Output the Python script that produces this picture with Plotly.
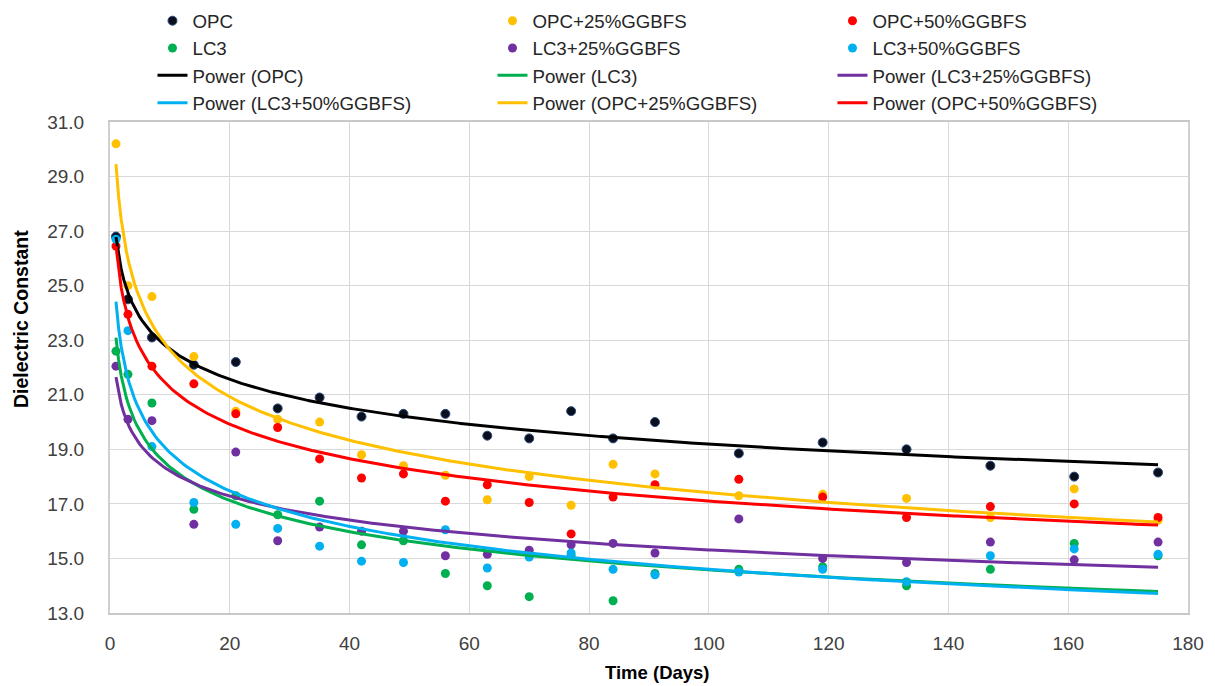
import numpy as np
import plotly.graph_objects as go

days = [1, 3, 7, 14, 21, 28, 35, 42, 49, 56, 63, 70, 77, 84, 91, 105, 119, 133, 147, 161, 175]

opc = [26.8, 24.5, 23.1, 22.1, 22.2, 20.5, 20.9, 20.2, 20.3, 20.3, 19.5, 19.4, 20.4, 19.4, 20.0,
       18.85, 19.25, 19.0, 18.4, 18.0, 18.15]
opc25 = [30.2, 25.0, 24.6, 22.4, 20.4, 20.1, 20.0, 18.8, 18.4, 18.05, 17.15, 18.0, 16.95, 18.45, 18.1,
         17.3, 17.35, 17.2, 16.5, 17.55, 16.4]
opc50 = [26.45, 23.95, 22.05, 21.4, 20.3, 19.8, 18.65, 17.95, 18.1, 17.1, 17.7, 17.05, 15.9, 17.25, 17.7,
         17.9, 17.25, 16.5, 16.9, 17.0, 16.5]
lc3 = [22.6, 21.75, 20.7, 16.8, 17.3, 16.6, 17.1, 15.5, 15.65, 14.45, 14.0, 13.6, 15.1, 13.45, 14.45,
       14.6, 14.7, 14.0, 14.6, 15.55, 15.1]
lc3_25 = [22.05, 20.1, 20.05, 16.25, 18.9, 15.65, 16.15, 16.0, 16.0, 15.1, 15.15, 15.3, 15.5, 15.55, 15.2,
          16.45, 15.0, 14.85, 15.6, 14.95, 15.6]
lc3_50 = [26.7, 23.35, 19.1, 17.05, 16.25, 16.1, 15.45, 14.9, 14.85, 16.05, 14.65, 15.05, 15.2, 14.6, 14.4,
          14.5, 14.6, 14.15, 15.1, 15.35, 15.15]

series_names = ["OPC", "OPC+25%GGBFS", "OPC+50%GGBFS", "LC3", "LC3+25%GGBFS", "LC3+50%GGBFS"]
series_values = [opc, opc25, opc50, lc3, lc3_25, lc3_50]
series_colors = ["#000000", "#FFC000", "#FF0000", "#00B050", "#7030A0", "#00B0F0"]
trend_order = ["OPC", "LC3", "LC3+25%GGBFS", "LC3+50%GGBFS", "OPC+25%GGBFS", "OPC+50%GGBFS"]

x_title = "Time (Days)"
y_title = "Dielectric Constant"

FONT = "Liberation Sans"
fig = go.Figure()

for name, vals, col in zip(series_names, series_values, series_colors):
    mk = dict(color=col, size=9)
    if name == "OPC":
        mk = dict(color="#0a0f1e", size=9, line=dict(color="#2a4a7a", width=1))
    fig.add_trace(go.Scatter(x=days, y=vals, mode="markers", name=name, marker=mk))

# Power trendlines (least squares in log-log space, like a spreadsheet power trendline)
xs = np.linspace(1, 175, 400)
lookup = {n: (v, c) for n, v, c in zip(series_names, series_values, series_colors)}
for name in trend_order:
    vals, col = lookup[name]
    b, ln_a = np.polyfit(np.log(days), np.log(vals), 1)
    ys = np.exp(ln_a) * xs ** b
    fig.add_trace(go.Scatter(x=xs, y=ys, mode="lines", name=f"Power ({name})",
                             line=dict(color=col, width=3)))

fig.update_layout(
    width=1215, height=686,
    margin=dict(l=110, r=27, t=122, b=73, autoexpand=False),
    paper_bgcolor="white", plot_bgcolor="white",
    font=dict(family=FONT, size=16, color="#404040"),
    legend=dict(orientation="h", xref="container", yref="container",
                x=0.1255, y=0.997, xanchor="left", yanchor="top",
                entrywidth=295, entrywidthmode="pixels",
                font=dict(family=FONT, size=18.7, color="#262626"),
                tracegroupgap=0, bgcolor="rgba(0,0,0,0)"),
    showlegend=True,
    annotations=[
        dict(text=f"<b>{x_title}</b>", xref="paper", yref="paper",
             x=(657 - 110) / 1078, y=(613 - 672) / 491, xanchor="center", yanchor="middle",
             showarrow=False, font=dict(family=FONT, size=18.5, color="#000000")),
        dict(text=f"<b>{y_title}</b>", xref="paper", yref="paper", textangle=-90,
             x=(21 - 110) / 1078, y=(613 - 319) / 491, xanchor="center", yanchor="middle",
             showarrow=False, font=dict(family=FONT, size=19.5, color="#000000")),
    ],
)
fig.update_xaxes(range=[0, 180], dtick=20, tick0=0,
                 showgrid=True, gridcolor="#d9d9d9", gridwidth=1,
                 showline=True, linecolor="#c8c8c8", linewidth=2, mirror=True,
                 zeroline=False, ticks="", ticklabelstandoff=12,
                 tickfont=dict(family=FONT, size=19, color="#404040"))
fig.update_yaxes(range=[13, 31], dtick=2, tick0=13, tickformat=".1f",
                 showgrid=True, gridcolor="#d9d9d9", gridwidth=1,
                 showline=True, linecolor="#d0d0d0", linewidth=2, mirror=True,
                 zeroline=False, ticks="", ticklabelstandoff=20,
                 tickfont=dict(family=FONT, size=19, color="#404040"))

fig.write_html("out.html")
